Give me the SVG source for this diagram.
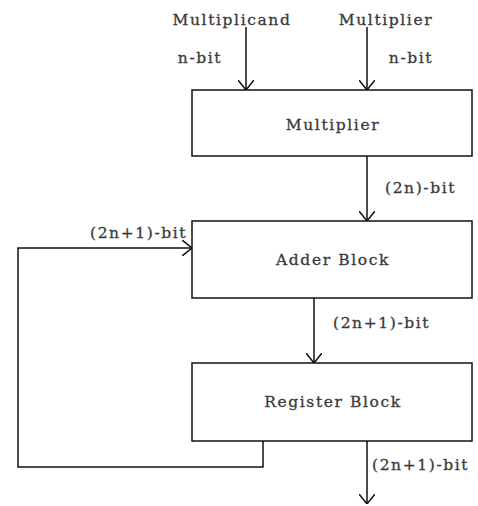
<svg xmlns="http://www.w3.org/2000/svg" width="478" height="506" viewBox="0 0 478 506">
<defs>
<marker id="arr" viewBox="0 0 10 16" refX="10" refY="8" markerWidth="10" markerHeight="16" markerUnits="userSpaceOnUse" orient="auto">
<path d="M0,0 L10,8 L0,16" fill="none" stroke="#111" stroke-width="1.5"/>
</marker>
<style>
.box{fill:#fff;stroke:#111;stroke-width:1.5}
.ln{fill:none;stroke:#111;stroke-width:1.5}
text{font-family:"DejaVu Serif","Liberation Serif",serif;font-size:15.5px;letter-spacing:1.6px;fill:#3a3a3a;stroke:#3a3a3a;stroke-width:0.3}
.c{text-anchor:middle}
</style>
</defs>
<rect width="478" height="506" fill="#fff"/>
<g id="connectors">
<line class="ln" x1="246" y1="27" x2="246" y2="90" marker-end="url(#arr)"/>
<line class="ln" x1="367" y1="27" x2="367" y2="90" marker-end="url(#arr)"/>
<line class="ln" x1="367" y1="156" x2="367" y2="221" marker-end="url(#arr)"/>
<line class="ln" x1="314" y1="298" x2="314" y2="363" marker-end="url(#arr)"/>
<line class="ln" x1="367" y1="441" x2="367" y2="504" marker-end="url(#arr)"/>
<polyline class="ln" points="263,441 263,467 18,467 18,248 192,248" marker-end="url(#arr)"/>
<text x="200" y="63" class="c">n-bit</text>
<text x="411" y="63" class="c">n-bit</text>
<text x="385" y="193">(2n)-bit</text>
<text x="90" y="238">(2n+1)-bit</text>
<text x="333" y="328">(2n+1)-bit</text>
<text x="372" y="470">(2n+1)-bit</text>
</g>
<g id="in-multiplicand"><text x="232" y="25" class="c">Multiplicand</text></g>
<g id="in-multiplier"><text x="386" y="25" class="c">Multiplier</text></g>
<g id="multiplier"><rect class="box" x="192" y="90" width="280" height="66"/><text x="333" y="130" class="c">Multiplier</text></g>
<g id="adder"><rect class="box" x="192" y="221" width="280" height="77"/><text x="333" y="265" class="c">Adder Block</text></g>
<g id="register"><rect class="box" x="192" y="363" width="280" height="78"/><text x="333" y="407" class="c">Register Block</text></g>
</svg>
